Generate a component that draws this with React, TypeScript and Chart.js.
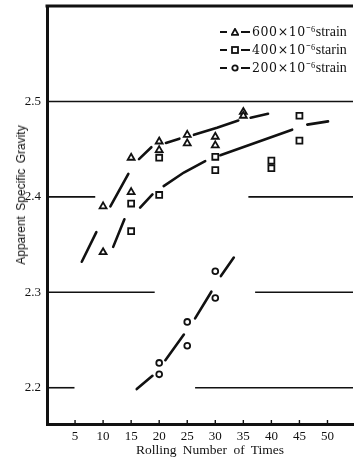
import React, { useEffect, useRef } from "react";
import { Chart, registerables } from "chart.js";

Chart.register(...registerables);

// ---- data ----
const xTicks = [5, 10, 15, 20, 25, 30, 35, 40, 45, 50];
const yTicks = [2.2, 2.3, 2.4, 2.5];

const rolling600 = [10, 10, 15, 15, 20, 20, 25, 25, 30, 30, 35, 35];
const gravity600 = [2.390, 2.342, 2.441, 2.405, 2.458, 2.449, 2.465, 2.456, 2.463, 2.454, 2.489, 2.485];

const rolling400 = [15, 15, 20, 20, 30, 30, 40, 40, 45, 45];
const gravity400 = [2.393, 2.364, 2.441, 2.402, 2.442, 2.428, 2.438, 2.430, 2.485, 2.459];

const rolling200 = [20, 20, 25, 25, 30, 30];
const gravity200 = [2.226, 2.214, 2.269, 2.244, 2.322, 2.294];

// fitted curves, drawn as hand-made dashes: each stroke is a list of [rolling, gravity]
const curve600 = [
  [[6.2, 2.332], [8.8, 2.363]],
  [[11.3, 2.390], [14.5, 2.424]],
  [[16.4, 2.4395], [18.6, 2.452]],
  [[21.2, 2.4565], [23.6, 2.461]],
  [[26.2, 2.465], [30.3, 2.4725], [34.1, 2.480]],
  [[36.3, 2.483], [39.4, 2.487]],
];
const curve400 = [
  [[11.8, 2.3476], [13.8, 2.3765]],
  [[16.6, 2.3887], [18.8, 2.4026]],
  [[20.8, 2.4113], [24.4, 2.4255], [28.2, 2.4374]],
  [[30.9, 2.4436], [43.7, 2.4704]],
  [[46.4, 2.4757], [50.1, 2.4791]],
];
const curve200 = [
  [[16.0, 2.1986], [18.8, 2.2125]],
  [[21.1, 2.2289], [24.4, 2.2557]],
  [[26.4, 2.2727], [29.3, 2.3006]],
  [[31.0, 2.317], [33.3, 2.3364]],
];

const legendRows = [
  { marker: "triangle", label: "600×10⁻⁶strain" },
  { marker: "rect", label: "400×10⁻⁶starin" },
  { marker: "circle", label: "200×10⁻⁶strain" },
];

// gridline interruptions (in data units) as in the original print
const gridBreaks: Record<string, [number, number] | null> = {
  "2.2": [4.9, 26.4],
  "2.3": [19.2, 37.1],
  "2.4": [8.6, 35.9],
  "2.5": null,
};

const INK = "#111";

function strokes(curve: number[][][]) {
  const out: { x: number; y: number | null }[] = [];
  curve.forEach((s, i) => {
    if (i > 0) out.push({ x: s[0][0], y: null });
    s.forEach(([x, y]) => out.push({ x, y }));
  });
  return out;
}

function pts(xs: number[], ys: number[]) {
  return xs.map((x, i) => ({ x, y: ys[i] }));
}

const framePlugin = {
  id: "frame",
  beforeDatasetsDraw(chart: any) {
    const { ctx, chartArea: a, scales } = chart;
    const x = scales.x;
    const y = scales.y;
    ctx.save();
    ctx.strokeStyle = INK;
    ctx.lineWidth = 1.6;
    yTicks.forEach((v) => {
      const py = y.getPixelForValue(v);
      const gap = gridBreaks[v.toFixed(1)];
      const segs = gap
        ? [
            [a.left, x.getPixelForValue(gap[0])],
            [x.getPixelForValue(gap[1]), a.right],
          ]
        : [[a.left, a.right]];
      segs.forEach(([x0, x1]) => {
        ctx.beginPath();
        ctx.moveTo(x0, py);
        ctx.lineTo(x1, py);
        ctx.stroke();
      });
    });
    ctx.lineWidth = 3;
    ctx.beginPath();
    ctx.moveTo(a.left - 1.5, a.top);
    ctx.lineTo(a.right, a.top);
    ctx.stroke();
    ctx.lineWidth = 1.4;
    xTicks.forEach((v) => {
      const px = x.getPixelForValue(v);
      ctx.beginPath();
      ctx.moveTo(px, a.bottom);
      ctx.lineTo(px, a.bottom - 4);
      ctx.stroke();
    });
    ctx.restore();
  },
};

function Marker({ kind }: { kind: string }) {
  const common = { stroke: INK, strokeWidth: 1.8, fill: "#fff" };
  return (
    <svg width={8} height={8} viewBox="0 0 8 8" style={{ display: "block", marginRight: 2 }}>
      {kind === "triangle" && <polygon points="4,0.9 7.3,6.9 0.7,6.9" {...common} />}
      {kind === "rect" && <rect x={1} y={1} width={6} height={6} {...common} />}
      {kind === "circle" && <circle cx={4} cy={4} r={2.7} {...common} />}
    </svg>
  );
}

export default function App() {
  const ref = useRef<HTMLCanvasElement | null>(null);

  useEffect(() => {
    if (!ref.current) return;
    const markerBase = {
      type: "scatter" as const,
      borderColor: INK,
      backgroundColor: "#fff",
      borderWidth: 1.8,
      showLine: false,
    };
    const curveBase = {
      type: "line" as const,
      borderColor: INK,
      borderWidth: 2.6,
      pointRadius: 0,
      spanGaps: false,
      tension: 0,
      borderCapStyle: "round" as const,
      fill: false,
    };
    const tickFont = { family: "'Liberation Serif', 'Times New Roman', serif", size: 13 };
    const chart = new Chart(ref.current, {
      type: "scatter",
      data: {
        datasets: [
          { ...curveBase, label: "fit 600", data: strokes(curve600) },
          { ...curveBase, label: "fit 400", data: strokes(curve400) },
          { ...curveBase, label: "fit 200", data: strokes(curve200) },
          { ...markerBase, label: "600×10⁻⁶strain", pointStyle: "triangle", pointRadius: 4, data: pts(rolling600, gravity600) },
          { ...markerBase, label: "400×10⁻⁶starin", pointStyle: "rect", pointRadius: 4.2, data: pts(rolling400, gravity400) },
          { ...markerBase, label: "200×10⁻⁶strain", pointStyle: "circle", pointRadius: 2.9, data: pts(rolling200, gravity200) },
        ] as any,
      },
      options: {
        responsive: false,
        animation: false,
        layout: { padding: { top: 4, left: 0, right: 0, bottom: 0 } },
        plugins: { legend: { display: false }, tooltip: { enabled: false } },
        scales: {
          x: {
            type: "linear",
            min: 0,
            max: 54.55,
            grid: { display: false, drawTicks: false },
            border: { display: true, color: INK, width: 3 },
            ticks: { font: tickFont, color: INK, padding: 5, maxRotation: 0, autoSkip: false },
            afterBuildTicks: (s: any) => {
              s.ticks = xTicks.map((v) => ({ value: v }));
            },
            afterFit: (s: any) => {
              s.height = 39;
              s.paddingLeft = 0;
              s.paddingRight = 0;
            },
          },
          y: {
            type: "linear",
            min: 2.162,
            max: 2.6,
            grid: { display: false, drawTicks: false },
            border: { display: true, color: INK, width: 3 },
            ticks: {
              font: tickFont,
              color: INK,
              padding: 6,
              callback: (v: any) => Number(v).toFixed(1),
            },
            afterBuildTicks: (s: any) => {
              s.ticks = yTicks.map((v) => ({ value: v }));
            },
            afterFit: (s: any) => {
              s.width = 47;
              s.paddingTop = 0;
              s.paddingBottom = 0;
            },
          },
        },
      } as any,
      plugins: [framePlugin],
    });
    return () => chart.destroy();
  }, []);

  const rowCenters = [32, 50, 68];

  return (
    <div style={{ position: "fixed", left: 0, top: 0, width: 359, height: 463, background: "#fff", overflow: "hidden" }}>
      <canvas ref={ref} width={359} height={463} style={{ width: 359, height: 463, display: "block" }} />
      {legendRows.map((r, i) => (
        <div
          key={r.label}
          style={{
            position: "absolute",
            left: 220,
            top: rowCenters[i] - 8,
            height: 16,
            display: "flex",
            alignItems: "center",
            whiteSpace: "nowrap",
            color: INK,
            fontFamily: "'Liberation Serif', 'Times New Roman', serif",
            fontSize: 14,
            lineHeight: "16px",
          }}
        >
          <span style={{ display: "block", width: 7, height: 2.5, background: INK, marginRight: 4 }} />
          <Marker kind={r.marker} />
          <span style={{ display: "block", width: 9, height: 2.5, background: INK, marginRight: 2 }} />
          <span>
            <span style={{ fontFamily: "'DejaVu Serif', serif", fontSize: 12.5, letterSpacing: 0.6 }}>
              {r.label.slice(0, 6)}
            </span>
            <span>{r.label.slice(6)}</span>
          </span>
        </div>
      ))}
      <div
        style={{
          position: "absolute",
          left: 21,
          top: 195,
          transform: "translate(-50%, -50%) rotate(-90deg)",
          whiteSpace: "nowrap",
          fontFamily: "'Liberation Sans', Arial, sans-serif",
          fontSize: 12,
          lineHeight: "14px",
          wordSpacing: 2,
          color: INK,
        }}
      >
        Apparent Specific Gravity
      </div>
      <div
        style={{
          position: "absolute",
          left: 210,
          top: 442,
          transform: "translateX(-50%)",
          whiteSpace: "nowrap",
          fontFamily: "'Liberation Serif', 'Times New Roman', serif",
          fontSize: 13.5,
          lineHeight: "16px",
          wordSpacing: 3,
          color: INK,
        }}
      >
        Rolling Number of Times
      </div>
    </div>
  );
}
